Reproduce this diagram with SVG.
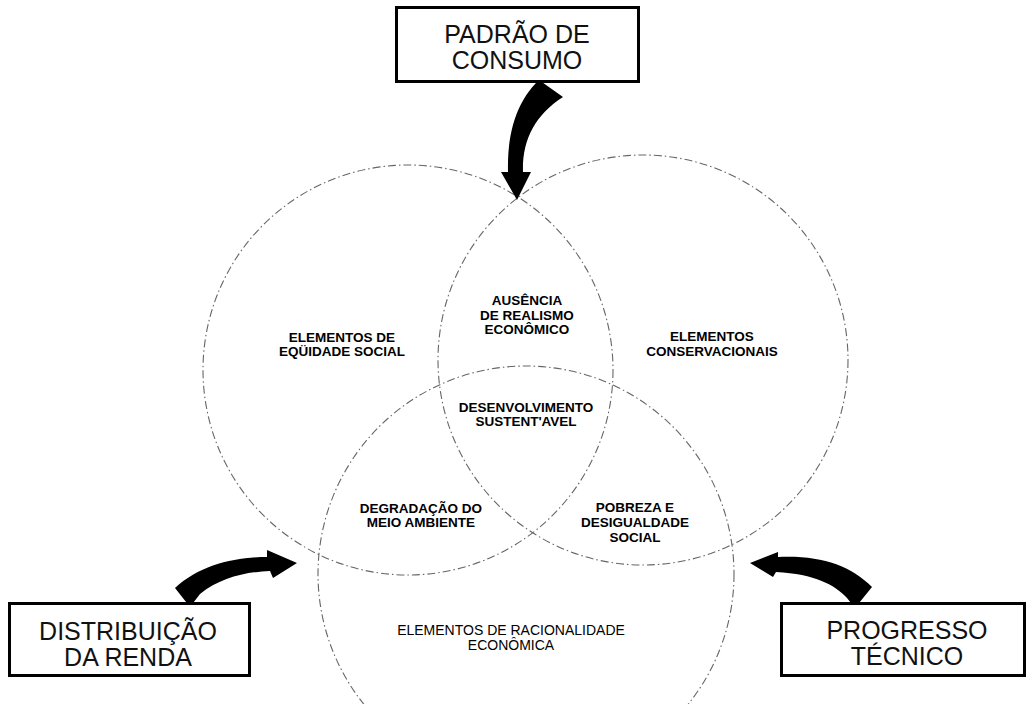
<svg xmlns="http://www.w3.org/2000/svg" width="1031" height="704" viewBox="0 0 1031 704">
<style>
.box{fill:#fff;stroke:#000;stroke-width:3}
.bt{font-family:"Liberation Sans",Arial,sans-serif;font-size:25px;fill:#111;text-anchor:middle}
.lb{font-family:"Liberation Sans",Arial,sans-serif;font-size:13.5px;font-weight:bold;fill:#000;text-anchor:middle}
.lr{font-family:"Liberation Sans",Arial,sans-serif;font-size:14px;fill:#000;text-anchor:middle}
.circ{fill:none;stroke:#666;stroke-width:1.1;stroke-dasharray:8 3 1.5 3}
.arr{fill:#000;stroke:none}
</style>
<rect width="1031" height="704" fill="#fff"/>
<g id="circles">
<circle id="c-equidade" class="circ" cx="408" cy="370" r="205"/>
<circle id="c-conservacionais" class="circ" cx="643" cy="360" r="205"/>
<circle id="c-racionalidade" class="circ" cx="526" cy="574" r="208"/>
</g>
<g id="connectors">
<path class="arr" d="M539,80 C518,100 507,130 508,172 L501,172 L517,200 L531,172 L523,172 C522,140 535,115 563,97 Z"/>
<path class="arr" d="M175,588 L190,607 L200,594 C220,578 245,572 270,571 L273,578 L297,563 L267,550 L267,557 C235,557 200,565 175,588 Z"/>
<path class="arr" d="M872,587 L855,608 L847,598 C835,585 815,574 776,572 L773,577 L750,563 L778,552 L778,557 C820,555 850,565 872,587 Z"/>
</g>
<g id="padrao">
<rect class="box" x="396.5" y="7.5" width="242" height="74"/>
<text class="bt" x="517" y="43">PADRÃO DE</text>
<text class="bt" x="517" y="69">CONSUMO</text>
</g>
<g id="distribuicao">
<rect class="box" x="9.5" y="603.5" width="240" height="72"/>
<text class="bt" x="128" y="640">DISTRIBUIÇÃO</text>
<text class="bt" x="128" y="666">DA RENDA</text>
</g>
<g id="progresso">
<rect class="box" x="781.5" y="603.5" width="243" height="72"/>
<text class="bt" x="907" y="639">PROGRESSO</text>
<text class="bt" x="907" y="665">TÉCNICO</text>
</g>
<g id="equidade">
<text class="lb" x="342" y="342">ELEMENTOS DE</text>
<text class="lb" x="342" y="356">EQÜIDADE SOCIAL</text>
</g>
<g id="ausencia">
<text class="lb" x="527" y="305">AUSÊNCIA</text>
<text class="lb" x="527" y="319.5">DE REALISMO</text>
<text class="lb" x="527" y="334">ECONÔMICO</text>
</g>
<g id="conservacionais">
<text class="lb" x="712" y="341">ELEMENTOS</text>
<text class="lb" x="712" y="356">CONSERVACIONAIS</text>
</g>
<g id="desenvolvimento">
<text class="lb" x="526" y="412">DESENVOLVIMENTO</text>
<text class="lb" x="526" y="426">SUSTENT'AVEL</text>
</g>
<g id="degradacao">
<text class="lb" x="421" y="513">DEGRADAÇÃO DO</text>
<text class="lb" x="421" y="527">MEIO AMBIENTE</text>
</g>
<g id="pobreza">
<text class="lb" x="635" y="512">POBREZA E</text>
<text class="lb" x="635" y="527">DESIGUALDADE</text>
<text class="lb" x="635" y="542">SOCIAL</text>
</g>
<g id="racionalidade">
<text class="lr" x="511" y="635">ELEMENTOS DE RACIONALIDADE</text>
<text class="lr" x="511" y="650">ECONÔMICA</text>
</g>
</svg>
